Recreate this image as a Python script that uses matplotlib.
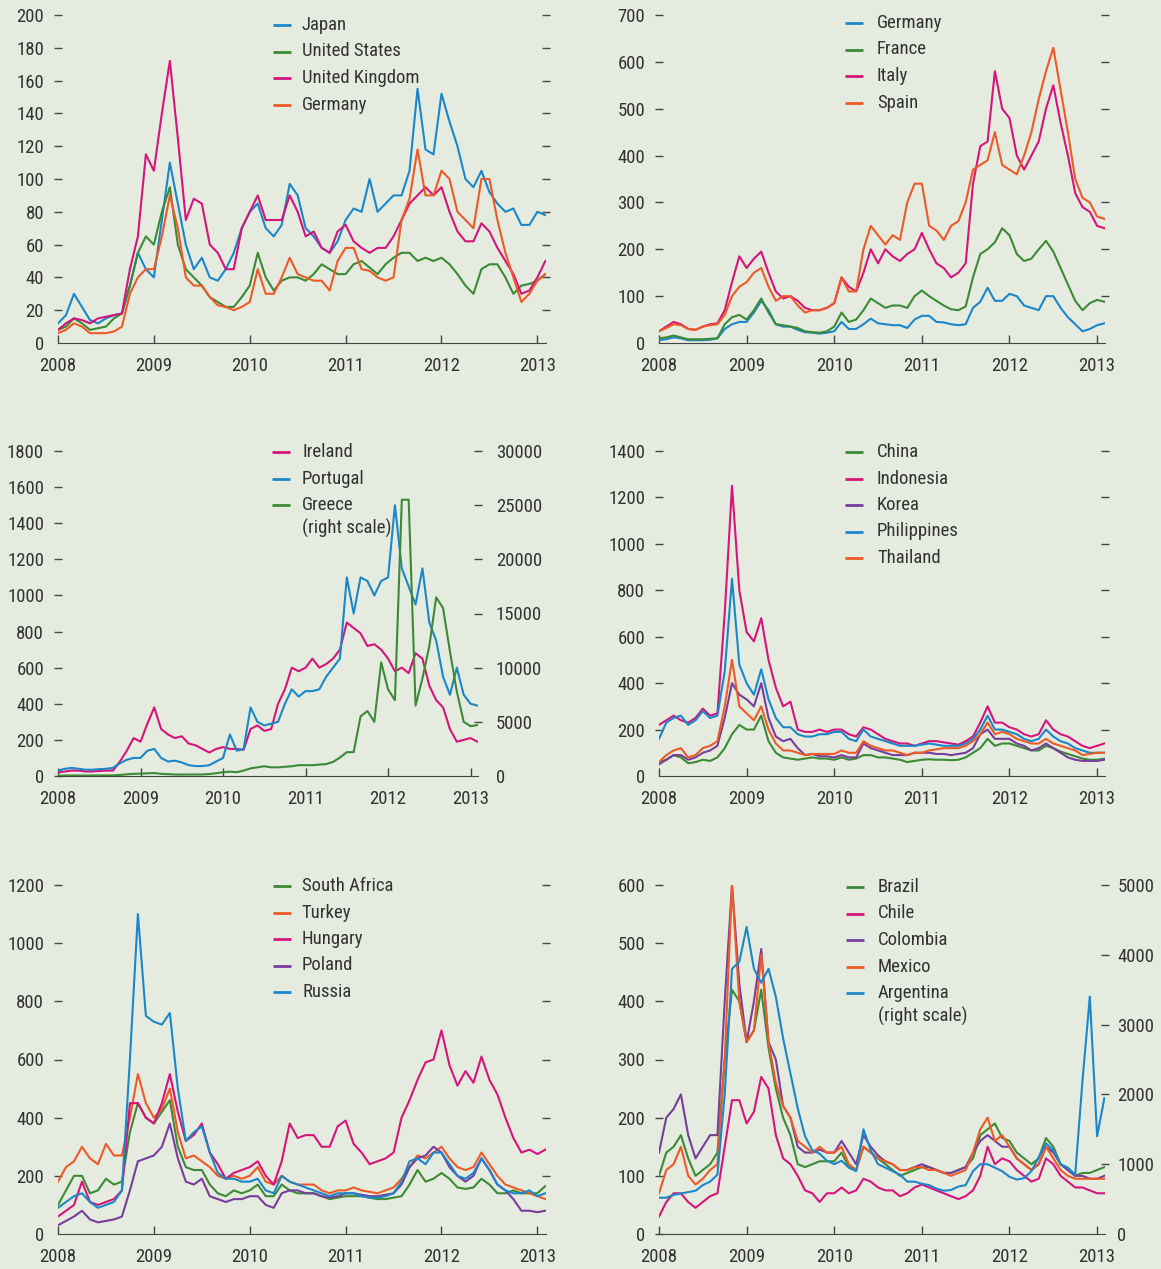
import numpy as np
import matplotlib
matplotlib.use("Agg")
import matplotlib.pyplot as plt
from matplotlib.lines import Line2D

# Monthly readings of the sovereign CDS charts, Jan 2008 .. Feb 2013 (basis points)
japan = [12, 17, 30, 22, 14, 12, 15, 17, 18, 35, 55, 45,
         40, 75, 110, 85, 60, 45, 52, 40, 38, 45, 55, 70,
         80, 85, 70, 65, 72, 97, 90, 70, 65, 58, 55, 62,
         75, 82, 80, 100, 80, 85, 90, 90, 105, 155, 118, 115,
         152, 135, 120, 100, 95, 105, 92, 85, 80, 82, 72, 72,
         80, 78]
united_states = [8, 10, 15, 12, 8, 9, 10, 15, 18, 35, 55, 65,
                 60, 80, 95, 60, 45, 40, 35, 28, 25, 22, 22, 28,
                 35, 55, 40, 32, 38, 40, 40, 38, 42, 48, 45, 42,
                 42, 48, 50, 46, 42, 48, 52, 55, 55, 50, 52, 50,
                 52, 48, 42, 35, 30, 45, 48, 48, 40, 30, 35, 36,
                 38, 42]
united_kingdom = [8, 12, 15, 14, 12, 15, 16, 17, 18, 45, 65, 115,
                  105, 140, 172, 125, 75, 88, 85, 60, 55, 45, 45, 70,
                  80, 90, 75, 75, 75, 90, 80, 65, 68, 58, 55, 68,
                  72, 62, 58, 55, 58, 58, 65, 75, 85, 90, 95, 90,
                  95, 80, 68, 62, 62, 73, 68, 58, 50, 42, 30, 32,
                  40, 50]
germany = [6, 8, 12, 10, 6, 6, 6, 7, 10, 30, 40, 45,
           45, 65, 90, 70, 40, 35, 35, 28, 23, 22, 20, 22,
           25, 45, 30, 30, 40, 52, 42, 40, 38, 38, 32, 50,
           58, 58, 45, 44, 40, 38, 40, 75, 88, 118, 90, 90,
           105, 100, 80, 75, 70, 100, 100, 75, 55, 40, 25, 30,
           38, 42]
france = [10, 12, 16, 12, 8, 8, 8, 9, 10, 40, 55, 60,
          50, 70, 95, 65, 40, 38, 35, 32, 25, 23, 22, 25,
          35, 65, 45, 50, 70, 95, 85, 75, 80, 80, 75, 100,
          112, 100, 90, 80, 72, 70, 78, 140, 190, 200, 215, 245,
          230, 190, 175, 180, 200, 218, 195, 160, 125, 90, 70, 85,
          92, 88]
italy = [25, 35, 45, 40, 30, 28, 35, 40, 42, 70, 130, 185,
         160, 180, 195, 150, 110, 95, 100, 90, 75, 70, 70, 75,
         85, 140, 120, 110, 150, 200, 170, 200, 185, 175, 190, 200,
         235, 200, 170, 160, 140, 150, 170, 340, 420, 430, 580, 500,
         480, 400, 370, 400, 430, 500, 550, 470, 400, 320, 290, 280,
         250, 245]
spain = [25, 32, 40, 38, 30, 28, 35, 38, 40, 60, 100, 120,
         130, 150, 160, 120, 90, 100, 100, 80, 65, 70, 70, 75,
         85, 140, 110, 110, 200, 250, 230, 210, 230, 220, 300, 340,
         340, 250, 240, 220, 250, 260, 300, 370, 380, 390, 450, 380,
         370, 360, 400, 450, 520, 580, 630, 540, 450, 350, 310, 300,
         270, 265]
ireland = [20, 25, 30, 30, 25, 25, 28, 30, 30, 80, 140, 210,
           190, 290, 380, 260, 230, 210, 220, 180, 170, 150, 130, 150,
           160, 150, 150, 145, 260, 280, 250, 260, 400, 480, 600, 580,
           600, 650, 600, 620, 650, 700, 850, 820, 790, 720, 730, 700,
           650, 580, 600, 570, 680, 650, 500, 420, 380, 260, 190, 200,
           210, 190]
portugal = [30, 40, 45, 40, 35, 35, 38, 40, 45, 70, 90, 100,
            100, 140, 150, 100, 80, 85, 75, 60, 55, 55, 60, 80,
            100, 230, 140, 150, 380, 300, 280, 290, 300, 400, 480, 440,
            470, 470, 480, 550, 600, 650, 1100, 900, 1100, 1080, 1000, 1080,
            1100, 1500, 1150, 1050, 950, 1150, 850, 750, 550, 450, 600, 450,
            400, 390]
greece = [30, 40, 50, 50, 45, 50, 55, 55, 60, 100, 150, 200,
          220, 250, 270, 200, 170, 140, 130, 140, 140, 140, 180, 250,
          350, 400, 350, 500, 700, 800, 900, 800, 800, 850, 900, 1000,
          1000, 1000, 1050, 1100, 1300, 1700, 2200, 2200, 5500, 6000, 5000, 10500,
          8000, 7000, 25500, 25500, 6500, 9000, 12000, 16500, 15500, 11500, 7800, 5000,
          4600, 4700]
china = [60, 70, 90, 80, 55, 60, 70, 65, 80, 120, 180, 220,
         200, 200, 260, 150, 100, 80, 75, 70, 75, 80, 75, 75,
         70, 80, 70, 75, 90, 90, 80, 80, 75, 70, 60, 65,
         70, 72, 70, 70, 68, 70, 80, 100, 120, 160, 130, 140,
         140, 130, 120, 110, 110, 130, 120, 105, 95, 85, 75, 70,
         70, 75]
indonesia = [220, 240, 260, 240, 230, 250, 290, 260, 270, 700, 1250, 800,
             620, 580, 680, 500, 380, 300, 320, 200, 190, 190, 200, 190,
             200, 200, 180, 170, 210, 200, 180, 160, 150, 140, 140, 130,
             140, 150, 150, 145, 140, 135, 150, 170, 230, 300, 230, 230,
             210, 200, 180, 170, 180, 240, 200, 180, 170, 150, 130, 120,
             130, 140]
korea = [50, 70, 90, 90, 70, 80, 100, 110, 130, 250, 400, 350,
         330, 300, 400, 250, 170, 150, 160, 120, 90, 95, 85, 85,
         80, 90, 80, 80, 140, 120, 110, 100, 90, 90, 90, 100,
         100, 100, 95, 95, 90, 95, 100, 120, 180, 200, 160, 160,
         160, 140, 130, 110, 120, 140, 120, 100, 80, 70, 65, 65,
         65, 70]
philippines = [160, 230, 250, 260, 220, 240, 280, 250, 260, 450, 850, 480,
               400, 350, 460, 330, 250, 210, 210, 180, 170, 170, 180, 180,
               190, 190, 160, 150, 200, 170, 160, 150, 140, 130, 130, 130,
               135, 140, 135, 130, 130, 130, 140, 160, 200, 260, 200, 200,
               190, 180, 160, 150, 160, 200, 170, 150, 140, 120, 110, 100,
               100, 100]
thailand = [60, 90, 110, 120, 80, 90, 120, 130, 150, 300, 500, 300,
            270, 240, 300, 200, 140, 110, 110, 100, 90, 95, 95, 95,
            95, 110, 100, 100, 150, 130, 120, 110, 110, 100, 90, 100,
            100, 110, 115, 120, 120, 120, 130, 150, 180, 230, 180, 190,
            180, 160, 150, 140, 140, 160, 140, 130, 120, 110, 90, 95,
            100, 100]
south_africa = [100, 150, 200, 200, 140, 150, 190, 170, 180, 350, 450, 400,
                380, 420, 460, 300, 230, 220, 220, 170, 140, 130, 150, 140,
                150, 170, 130, 130, 170, 150, 140, 140, 140, 130, 120, 125,
                130, 130, 130, 125, 120, 120, 125, 130, 170, 220, 180, 190,
                210, 190, 160, 155, 160, 190, 170, 140, 140, 150, 140, 140,
                140, 165]
turkey = [180, 230, 250, 300, 260, 240, 310, 270, 270, 400, 550, 450,
          400, 430, 500, 350, 260, 270, 250, 230, 200, 190, 200, 190,
          200, 230, 180, 170, 200, 180, 170, 170, 170, 150, 140, 150,
          150, 160, 150, 145, 140, 150, 160, 190, 230, 270, 260, 280,
          300, 260, 230, 220, 230, 280, 240, 200, 170, 160, 150, 140,
          130, 120]
hungary = [60, 80, 100, 180, 110, 100, 110, 120, 150, 450, 450, 400,
           380, 450, 550, 420, 320, 340, 380, 280, 240, 190, 210, 220,
           230, 250, 200, 170, 250, 380, 330, 340, 340, 300, 300, 370,
           390, 310, 280, 240, 250, 260, 280, 400, 460, 530, 590, 600,
           700, 580, 510, 560, 520, 610, 530, 480, 400, 330, 280, 290,
           275, 290]
poland = [30, 45, 60, 80, 50, 40, 45, 50, 60, 150, 250, 260,
          270, 300, 380, 260, 180, 170, 190, 130, 120, 110, 120, 120,
          130, 130, 100, 90, 140, 150, 150, 140, 140, 130, 125, 130,
          140, 140, 135, 130, 130, 135, 140, 170, 230, 260, 270, 300,
          280, 230, 200, 180, 200, 260, 220, 170, 150, 120, 80, 80,
          75, 80]
russia = [90, 110, 130, 140, 110, 90, 100, 110, 150, 600, 1100, 750,
          730, 720, 760, 500, 320, 350, 370, 280, 210, 190, 190, 180,
          180, 190, 150, 140, 200, 180, 170, 160, 150, 140, 130, 140,
          140, 140, 130, 125, 125, 130, 140, 180, 250, 260, 240, 280,
          280, 240, 200, 190, 210, 260, 220, 170, 150, 140, 140, 150,
          130, 140]
brazil = [100, 140, 150, 170, 130, 100, 110, 120, 140, 300, 420, 400,
          330, 350, 420, 320, 250, 200, 170, 120, 115, 120, 125, 125,
          125, 140, 115, 110, 150, 140, 130, 120, 110, 100, 105, 110,
          115, 115, 110, 105, 105, 110, 115, 130, 170, 180, 190, 165,
          160, 140, 130, 120, 130, 165, 150, 120, 110, 100, 105, 105,
          110, 115]
chile = [30, 55, 70, 70, 55, 45, 55, 65, 70, 150, 230, 230,
         190, 210, 270, 250, 170, 130, 120, 100, 75, 70, 55, 70,
         70, 80, 70, 75, 95, 90, 80, 75, 75, 65, 70, 80,
         85, 80, 75, 70, 65, 60, 65, 75, 100, 150, 120, 130,
         125, 110, 100, 90, 95, 130, 120, 100, 90, 80, 80, 75,
         70, 70]
colombia = [140, 200, 215, 240, 170, 130, 150, 170, 170, 400, 600, 430,
            330, 400, 490, 330, 300, 220, 200, 150, 140, 140, 145, 140,
            140, 160, 140, 120, 170, 150, 135, 125, 120, 110, 110, 115,
            120, 115, 110, 105, 105, 110, 115, 140, 160, 170, 160, 150,
            150, 130, 120, 110, 120, 150, 140, 120, 110, 100, 100, 95,
            95, 100]
mexico = [70, 110, 120, 150, 100, 85, 95, 110, 120, 300, 600, 400,
          330, 350, 480, 330, 260, 220, 200, 160, 150, 140, 150, 140,
          140, 150, 120, 110, 150, 140, 130, 125, 120, 110, 110, 115,
          115, 110, 110, 105, 100, 105, 110, 140, 180, 200, 160, 170,
          150, 130, 120, 110, 120, 150, 130, 110, 100, 95, 95, 95,
          95, 95]
argentina = [520, 520, 560, 580, 600, 620, 700, 750, 850, 2000, 3800, 3900,
             4400, 3800, 3600, 3800, 3400, 2800, 2300, 1800, 1400, 1200, 1150, 1050,
             1000, 1050, 950, 900, 1500, 1200, 1000, 950, 900, 850, 750, 750,
             720, 700, 650, 620, 630, 680, 700, 900, 1000, 1000, 950, 900,
             820, 780, 800, 900, 1100, 1300, 1200, 1000, 950, 850, 2200, 3400,
             1400, 1950]

months = 2008 + np.arange(len(japan)) / 12
years = list(range(2008, 2014))

W, H = 1161, 1269
BG = "#e5ebdf"
TEXT = "#333333"
AXIS = "#444444"
BLUE = "#1b87c9"
GREEN = "#3c8a35"
MAGENTA = "#d5147c"
ORANGE = "#ee5a27"
PURPLE = "#773e9b"

plt.rcParams["font.family"] = ["Liberation Sans Narrow", "Arial Narrow", "Roboto Condensed",
                               "PT Sans Narrow", "Archivo Narrow", "Fira Sans Condensed",
                               "IBM Plex Sans Condensed", "DejaVu Sans"]
plt.rcParams["font.size"] = 13.5

fig = plt.figure(figsize=(W / 100, H / 100), dpi=100, facecolor=BG)


def hide_zero_tick(axis):
    t = axis.get_major_ticks()[0]
    t.tick1line.set_visible(False)
    t.tick2line.set_visible(False)


def make_axes(left, right, top, bottom, ymax, ystep):
    ax = fig.add_axes([left / W, 1 - bottom / H, (right - left) / W, (bottom - top) / H])
    ax.patch.set_alpha(0)
    ax.set_xlim(2008, 2013.09)
    ax.set_ylim(0, ymax)
    ax.set_yticks(np.arange(0, ymax + 1, ystep))
    ax.set_xticks(years)
    for side in ("top", "left", "right"):
        ax.spines[side].set_visible(False)
    ax.spines["bottom"].set_color(AXIS)
    ax.tick_params(axis="x", direction="in", length=6, width=1, color=AXIS,
                   labelcolor=TEXT, pad=10)
    ax.tick_params(axis="y", direction="inout", length=6, width=1, color=AXIS,
                   labelcolor=TEXT, pad=7, right=True)
    hide_zero_tick(ax.yaxis)
    return ax


def right_scale(ax, ymax, ystep, pad):
    tw = ax.twinx()
    tw.set_ylim(0, ymax)
    tw.set_yticks(np.arange(0, ymax + 1, ystep))
    for side in tw.spines:
        tw.spines[side].set_visible(False)
    tw.tick_params(axis="y", direction="inout", length=6, width=1, color=AXIS,
                   labelcolor=TEXT, pad=pad)
    hide_zero_tick(tw.yaxis)
    return tw


def add_key(xh, y0, entries, gap=30):
    y = y0
    for name, color in entries:
        parts = name.split("\n")
        fig.add_artist(Line2D([xh / W, (xh + 18) / W], [1 - y / H] * 2,
                              color=color, lw=2, solid_capstyle="butt"))
        for i, part in enumerate(parts):
            fig.text((xh + gap) / W, 1 - (y + i * 23) / H, part, ha="left",
                     va="center", color=TEXT)
        y += 26.5 + 23 * (len(parts) - 1)


LW = 1.5

# top left
ax1 = make_axes(58, 546, 15, 343, 200, 20)
for vals, c in [(japan, BLUE), (united_states, GREEN), (united_kingdom, MAGENTA), (germany, ORANGE)]:
    ax1.plot(months, vals, color=c, lw=LW)
add_key(273, 25, [("Japan", BLUE), ("United States", GREEN),
                  ("United Kingdom", MAGENTA), ("Germany", ORANGE)], gap=29)

# top right
ax2 = make_axes(659, 1105, 15, 343, 700, 100)
for vals, c in [(germany, BLUE), (france, GREEN), (italy, MAGENTA), (spain, ORANGE)]:
    ax2.plot(months, vals, color=c, lw=LW)
add_key(845, 23, [("Germany", BLUE), ("France", GREEN), ("Italy", MAGENTA), ("Spain", ORANGE)], gap=32)

# middle left
ax3 = make_axes(58, 478, 451, 776, 1800, 200)
ax3.plot(months, ireland, color=MAGENTA, lw=LW)
ax3.plot(months, portugal, color=BLUE, lw=LW)
ax3r = right_scale(ax3, 30000, 5000, 10)
ax3r.plot(months, greece, color=GREEN, lw=LW)
add_key(272, 452, [("Ireland", MAGENTA), ("Portugal", BLUE), ("Greece\n(right scale)", GREEN)], gap=30)

# middle right
ax4 = make_axes(659, 1105, 451, 776, 1400, 200)
for vals, c in [(china, GREEN), (indonesia, MAGENTA), (korea, PURPLE), (philippines, BLUE), (thailand, ORANGE)]:
    ax4.plot(months, vals, color=c, lw=LW)
add_key(845, 452, [("China", GREEN), ("Indonesia", MAGENTA), ("Korea", PURPLE),
                   ("Philippines", BLUE), ("Thailand", ORANGE)], gap=32)

# bottom left
ax5 = make_axes(58, 546, 885, 1234, 1200, 200)
for vals, c in [(south_africa, GREEN), (turkey, ORANGE), (hungary, MAGENTA), (poland, PURPLE), (russia, BLUE)]:
    ax5.plot(months, vals, color=c, lw=LW)
add_key(273, 886, [("South Africa", GREEN), ("Turkey", ORANGE), ("Hungary", MAGENTA),
                   ("Poland", PURPLE), ("Russia", BLUE)], gap=29)

# bottom right
ax6 = make_axes(659, 1105, 885, 1234, 600, 100)
for vals, c in [(brazil, GREEN), (chile, MAGENTA), (colombia, PURPLE), (mexico, ORANGE)]:
    ax6.plot(months, vals, color=c, lw=LW)
ax6r = right_scale(ax6, 5000, 1000, 6)
ax6r.plot(months, argentina, color=BLUE, lw=LW)
add_key(846, 887, [("Brazil", GREEN), ("Chile", MAGENTA), ("Colombia", PURPLE),
                   ("Mexico", ORANGE), ("Argentina\n(right scale)", BLUE)], gap=32)

fig.savefig("out.png", dpi=100, facecolor=BG)
